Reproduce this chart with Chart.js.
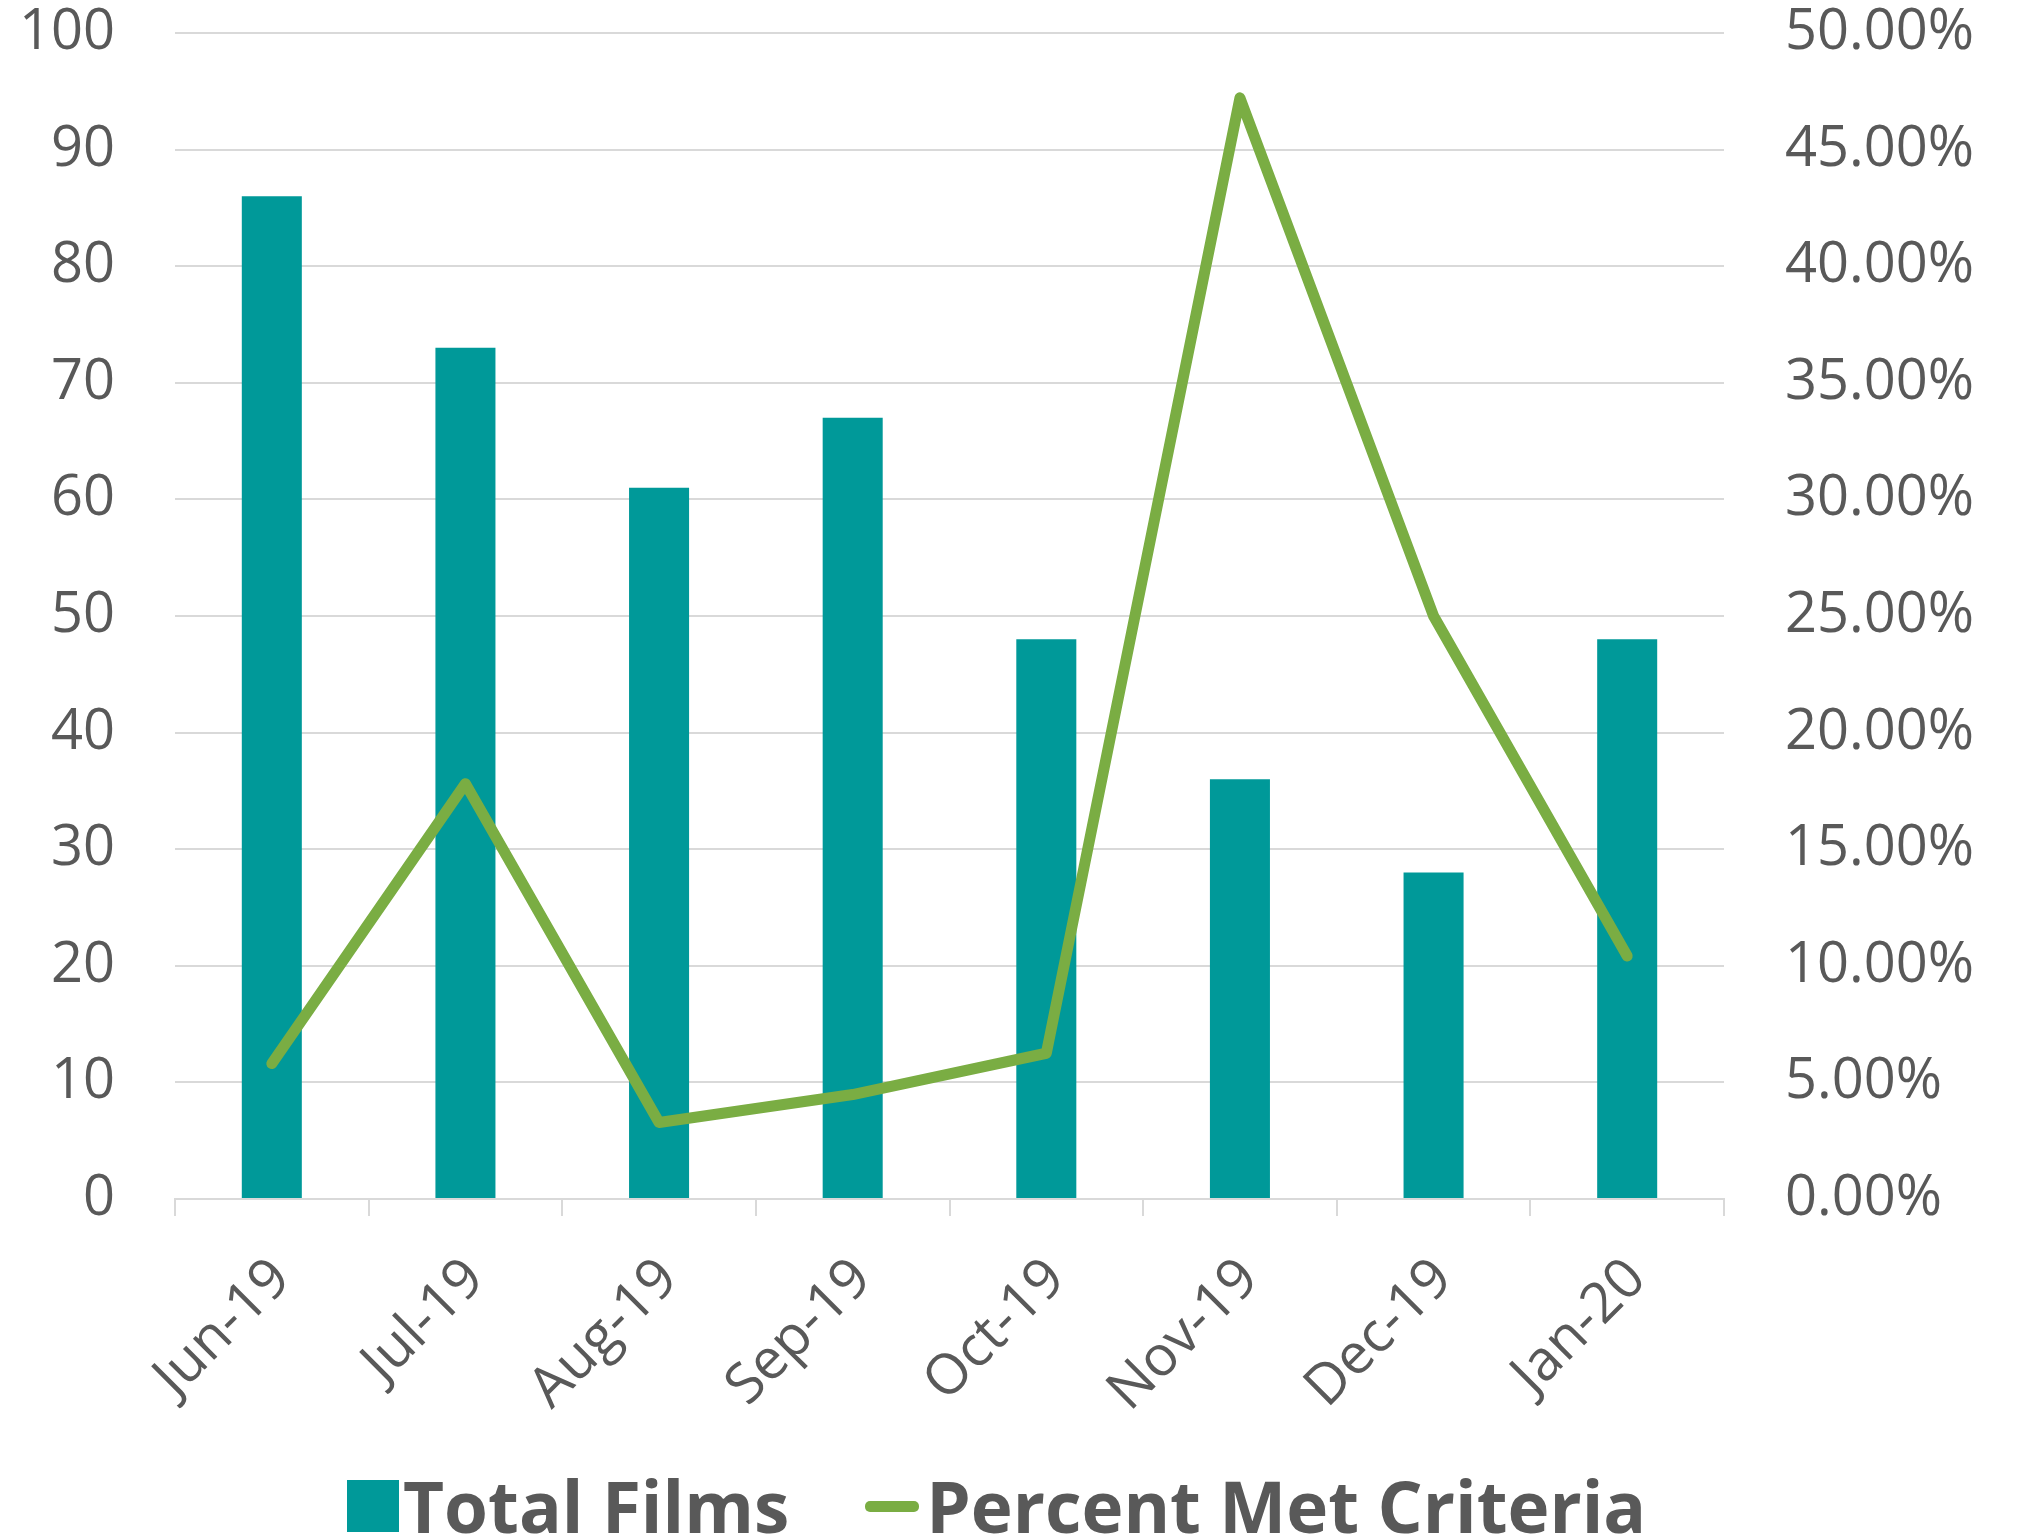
<!DOCTYPE html>
<html>
<head>
<meta charset="utf-8">
<script src="https://cdn.jsdelivr.net/npm/chart.js@4/dist/chart.umd.min.js"></script>
<style>
  html, body { margin: 0; padding: 0; background: #fff; }
  #wrap { position: relative; width: 2017px; height: 1534px; }
  #legend {
    position: absolute; left: 347px; top: 1462px;
    display: flex; align-items: center;
    font-family: 'Open Sans', sans-serif; font-weight: bold; font-size: 71px;
    color: #595959; line-height: 88px;
  }
  #legend .item { display: flex; align-items: center; }
  #legend .box { width: 52px; height: 52px; margin-right: 4px; }
  #legend .line { width: 54px; height: 11px; border-radius: 5px; margin-right: 7px; }
</style>
</head>
<body>
<div id="wrap">
  <canvas id="filmsChart" width="2017" height="1534"></canvas>
  <div id="legend"></div>
</div>
<script>
    var months = ['Jun-19', 'Jul-19', 'Aug-19', 'Sep-19', 'Oct-19', 'Nov-19', 'Dec-19', 'Jan-20'];
    var totalFilms = [86, 73, 61, 67, 48, 36, 28, 48];
    var percentMet = [5.81, 17.81, 3.28, 4.48, 6.25, 47.22, 25.00, 10.42];

    var teal = '#009999';
    var green = '#7AAD43';
    var grey = '#595959';
    var gridGrey = '#D9D9D9';

    Chart.defaults.font.family = "'Open Sans', sans-serif";
    Chart.defaults.color = grey;

    // y axes: fixed widths, no extra padding above/below
    function fitY(width) {
        return function (s) {
            s.width = width;
            s.paddingTop = 0;
            s.paddingBottom = 0;
        };
    }

    var ctx = document.getElementById('filmsChart').getContext('2d');
    var filmsChart = new Chart(ctx, {
        type: 'bar',
        data: {
            labels: months,
            datasets: [{
                type: 'bar',
                label: 'Total Films',
                data: totalFilms,
                backgroundColor: teal,
                yAxisID: 'y',
                barPercentage: 0.31,
                categoryPercentage: 1,
                order: 2
            }, {
                type: 'line',
                label: 'Percent Met Criteria',
                data: percentMet,
                borderColor: green,
                borderWidth: 11,
                borderCapStyle: 'round',
                borderJoinStyle: 'round',
                pointRadius: 0,
                tension: 0,
                yAxisID: 'y1',
                order: 1
            }]
        },
        options: {
            responsive: false,
            animation: false,
            devicePixelRatio: 1,
            layout: { padding: { top: 33, left: 0, right: 0, bottom: 0 } },
            plugins: {
                legend: { display: false },
                tooltip: { enabled: false }
            },
            scales: {
                x: {
                    offset: true,
                    grid: {
                        offset: true,
                        drawOnChartArea: false,
                        color: gridGrey,
                        lineWidth: 2,
                        tickLength: 17
                    },
                    border: { color: gridGrey, width: 2 },
                    ticks: {
                        font: { size: 56 },
                        minRotation: 45,
                        maxRotation: 45,
                        padding: 30,
                        labelOffset: 10
                    },
                    afterFit: function (s) {
                        s.height = 335;
                        s.paddingLeft = 0;
                        s.paddingRight = 0;
                    }
                },
                y: {
                    position: 'left',
                    min: 0,
                    max: 100,
                    ticks: { stepSize: 10, font: { size: 56, lineHeight: 1 }, padding: 60 },
                    grid: { color: gridGrey, lineWidth: 2, drawTicks: false },
                    border: { display: false },
                    afterFit: fitY(175)
                },
                y1: {
                    position: 'right',
                    min: 0,
                    max: 50,
                    ticks: {
                        stepSize: 5,
                        font: { size: 56, lineHeight: 1 },
                        padding: 61,
                        callback: function (v) { return v.toFixed(2) + '%'; }
                    },
                    grid: { drawOnChartArea: false, drawTicks: false },
                    border: { display: false },
                    afterFit: fitY(293)
                }
            }
        }
    });

    // legend built from the datasets, tight gap like the original
    var legend = document.getElementById('legend');
    filmsChart.data.datasets.forEach(function (ds, i) {
        var item = document.createElement('div');
        item.className = 'item';
        if (i > 0) item.style.marginLeft = '76px';
        var mark = document.createElement('span');
        if (ds.type === 'bar') {
            mark.className = 'box';
            mark.style.background = ds.backgroundColor;
        } else {
            mark.className = 'line';
            mark.style.background = ds.borderColor;
        }
        var txt = document.createElement('span');
        txt.textContent = ds.label;
        item.appendChild(mark);
        item.appendChild(txt);
        legend.appendChild(item);
    });
</script>
</body>
</html>
